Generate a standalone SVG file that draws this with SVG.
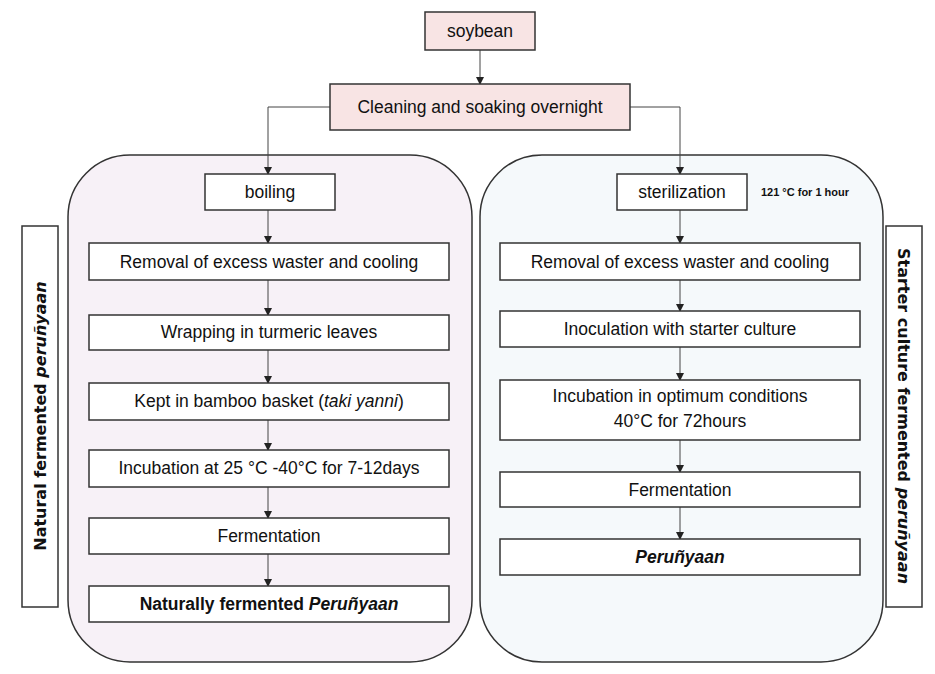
<svg xmlns="http://www.w3.org/2000/svg" width="935" height="674" viewBox="0 0 935 674">
<defs><marker id="a" markerWidth="8" markerHeight="8" refX="7" refY="4" orient="auto" markerUnits="userSpaceOnUse"><path d="M0,0 L8,4 L0,8 Z" fill="#222"/></marker></defs>
<style>
.b{fill:#fff;stroke:#333;stroke-width:1.5}
.p{fill:#f8e4e4;stroke:#333;stroke-width:1.5}
text{font-family:"Liberation Sans",Arial,sans-serif;font-size:17.5px;fill:#111;text-anchor:middle}
.c line,.c path{stroke:#444;stroke-width:1;fill:none;marker-end:url(#a)}
.s{font-family:Verdana,"DejaVu Sans",sans-serif;font-weight:bold;font-size:16px}
.sm{font-size:11px;font-weight:bold}
</style>
<rect width="935" height="674" fill="#fff"/>
<g id="panelL"><rect x="68" y="155" width="404" height="507" rx="62" fill="#f7f1f7" stroke="#333" stroke-width="1.5"/></g>
<g id="panelR"><rect x="480" y="155" width="403" height="507" rx="62" fill="#f5f9fb" stroke="#333" stroke-width="1.5"/></g>
<g class="c">
<line x1="480" y1="50" x2="480" y2="84"/>
<path d="M330,107 H268 V174"/>
<path d="M630,107 H680 V174"/>
<line x1="268" y1="210" x2="268" y2="243"/>
<line x1="268" y1="280" x2="268" y2="315"/>
<line x1="268" y1="350" x2="268" y2="383"/>
<line x1="268" y1="420" x2="268" y2="450"/>
<line x1="268" y1="487" x2="268" y2="518"/>
<line x1="268" y1="554" x2="268" y2="586"/>
<line x1="680" y1="210" x2="680" y2="243"/>
<line x1="680" y1="280" x2="680" y2="311"/>
<line x1="680" y1="347" x2="680" y2="380"/>
<line x1="680" y1="440" x2="680" y2="472"/>
<line x1="680" y1="507" x2="680" y2="539"/>
</g>
<g id="soybean"><rect class="p" x="425" y="12" width="110" height="38"/><text x="480" y="37">soybean</text></g>
<g id="cleaning"><rect class="p" x="330" y="84" width="300" height="46"/><text x="480" y="113">Cleaning and soaking overnight</text></g>
<g id="boiling"><rect class="b" x="205" y="174" width="130" height="36"/><text x="270" y="198">boiling</text></g>
<g id="l1"><rect class="b" x="89" y="243" width="360" height="37"/><text x="269" y="268">Removal of excess waster and cooling</text></g>
<g id="l2"><rect class="b" x="89" y="315" width="360" height="35"/><text x="269" y="338">Wrapping in turmeric leaves</text></g>
<g id="l3"><rect class="b" x="89" y="383" width="360" height="37"/><text x="269" y="407">Kept in bamboo basket (<tspan font-style="italic">taki yanni</tspan>)</text></g>
<g id="l4"><rect class="b" x="89" y="450" width="360" height="37"/><text x="269" y="474">Incubation at 25 °C -40°C for 7-12days</text></g>
<g id="l5"><rect class="b" x="89" y="518" width="360" height="36"/><text x="269" y="542">Fermentation</text></g>
<g id="l6"><rect class="b" x="89" y="586" width="360" height="36"/><text x="269" y="610" font-weight="bold">Naturally fermented <tspan font-style="italic">Peruñyaan</tspan></text></g>
<g id="steril"><rect class="b" x="617" y="174" width="130" height="36"/><text x="682" y="198">sterilization</text><text class="sm" x="805" y="196">121 °C for 1 hour</text></g>
<g id="r1"><rect class="b" x="500" y="243" width="360" height="37"/><text x="680" y="268">Removal of excess waster and cooling</text></g>
<g id="r2"><rect class="b" x="500" y="311" width="360" height="36"/><text x="680" y="335">Inoculation with starter culture</text></g>
<g id="r3"><rect class="b" x="500" y="380" width="360" height="60"/><text x="680" y="402">Incubation in optimum conditions</text><text x="680" y="427">40°C for 72hours</text></g>
<g id="r4"><rect class="b" x="500" y="472" width="360" height="35"/><text x="680" y="496">Fermentation</text></g>
<g id="r5"><rect class="b" x="500" y="539" width="360" height="36"/><text x="680" y="563" font-weight="bold" font-style="italic">Peruñyaan</text></g>
<g id="sideL"><rect class="b" x="22" y="226" width="36" height="381"/><text class="s" transform="translate(46,416) rotate(-90)">Natural fermented <tspan font-style="italic">peruñyaan</tspan></text></g>
<g id="sideR"><rect class="b" x="886" y="226" width="36" height="381"/><text class="s" transform="translate(898,416) rotate(90)">Starter culture fermented <tspan font-style="italic">peruñyaan</tspan></text></g>
</svg>
